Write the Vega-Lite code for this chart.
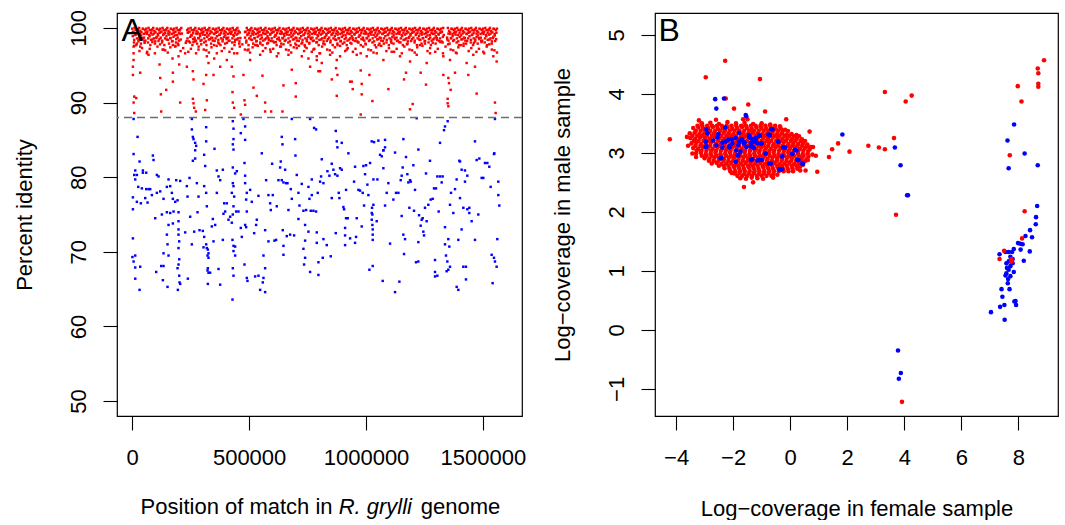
{
"$schema":"https://vega.github.io/schema/vega-lite/v6.json",
"background":"white",
"padding":{"left":12,"top":8,"right":0,"bottom":0},
"spacing":23,
"config":{
"font":"Liberation Sans",
"view":{"stroke":"black","strokeWidth":1.2},
"axis":{"domain":false,"grid":false,"tickColor":"black","tickSize":14,"tickWidth":1.1,"labelFont":"Liberation Sans","labelFontSize":22,"labelColor":"black","labelFlush":false,"labelOverlap":false,"titleFont":"Liberation Sans","titleFontSize":22,"titleFontWeight":"normal","titleColor":"black"},
"axisX":{"labelBaseline":"top","labelPadding":17,"labelAlign":"center","titleBaseline":"alphabetic","titleY":99},
"axisY":{"labelAngle":-90,"labelAlign":"center","labelBaseline":"alphabetic","labelPadding":18,"titleX":-86,"titleBaseline":"alphabetic","titleAngle":-90}
},
"datasets":{
"aRed":[
{"x":0,"y":99.9},{"x":5000,"y":99.5},{"x":10000,"y":100},{"x":15000,"y":99.7},{"x":20000,"y":99.3},{"x":25000,"y":99.8},{"x":30000,"y":100},{"x":35000,"y":99.6},{"x":40000,"y":99.4},{"x":45000,"y":99.9},{"x":50000,"y":99.2},{"x":55000,"y":99.7},
{"x":60000,"y":99.9},{"x":65000,"y":99.5},{"x":70000,"y":100},{"x":75000,"y":99.7},{"x":80000,"y":99.3},{"x":85000,"y":99.8},{"x":90000,"y":100},{"x":95000,"y":99.6},{"x":100000,"y":99.4},{"x":105000,"y":99.9},{"x":110000,"y":99.2},{"x":115000,"y":99.7},
{"x":120000,"y":99.9},{"x":125000,"y":99.5},{"x":130000,"y":100},{"x":135000,"y":99.7},{"x":140000,"y":99.3},{"x":145000,"y":99.8},{"x":150000,"y":100},{"x":155000,"y":99.6},{"x":160000,"y":99.4},{"x":165000,"y":99.9},{"x":170000,"y":99.2},{"x":175000,"y":99.7},
{"x":180000,"y":99.9},{"x":185000,"y":99.5},{"x":190000,"y":100},{"x":195000,"y":99.7},{"x":200000,"y":99.3},{"x":205000,"y":99.8},{"x":210000,"y":100},{"x":235000,"y":99.7},
{"x":240000,"y":99.9},{"x":245000,"y":99.5},{"x":250000,"y":100},{"x":255000,"y":99.7},{"x":260000,"y":99.3},{"x":265000,"y":99.8},{"x":270000,"y":100},{"x":275000,"y":99.6},{"x":280000,"y":99.4},{"x":285000,"y":99.9},{"x":290000,"y":99.2},{"x":295000,"y":99.7},
{"x":300000,"y":99.9},{"x":305000,"y":99.5},{"x":310000,"y":100},{"x":315000,"y":99.7},{"x":320000,"y":99.3},{"x":325000,"y":99.8},{"x":330000,"y":100},{"x":335000,"y":99.6},{"x":340000,"y":99.4},{"x":345000,"y":99.9},{"x":350000,"y":99.2},{"x":355000,"y":99.7},
{"x":360000,"y":99.9},{"x":365000,"y":99.5},{"x":370000,"y":100},{"x":375000,"y":99.7},{"x":380000,"y":99.3},{"x":385000,"y":99.8},{"x":390000,"y":100},{"x":395000,"y":99.6},{"x":400000,"y":99.4},{"x":405000,"y":99.9},{"x":410000,"y":99.2},{"x":415000,"y":99.7},
{"x":420000,"y":99.9},{"x":425000,"y":99.5},{"x":430000,"y":100},{"x":435000,"y":99.7},{"x":440000,"y":99.3},{"x":445000,"y":99.8},{"x":450000,"y":100},{"x":455000,"y":99.6},{"x":460000,"y":99.4},
{"x":485000,"y":99.5},{"x":490000,"y":100},{"x":495000,"y":99.7},{"x":500000,"y":99.3},{"x":505000,"y":99.8},{"x":510000,"y":100},{"x":515000,"y":99.6},{"x":520000,"y":99.4},{"x":525000,"y":99.9},{"x":530000,"y":99.2},{"x":535000,"y":99.7},
{"x":540000,"y":99.9},{"x":545000,"y":99.5},{"x":550000,"y":100},{"x":555000,"y":99.7},{"x":560000,"y":99.3},{"x":565000,"y":99.8},{"x":570000,"y":100},{"x":575000,"y":99.6},{"x":580000,"y":99.4},{"x":585000,"y":99.9},{"x":590000,"y":99.2},{"x":595000,"y":99.7},
{"x":600000,"y":99.9},{"x":605000,"y":99.5},{"x":610000,"y":100},{"x":615000,"y":99.7},{"x":620000,"y":99.3},{"x":625000,"y":99.8},{"x":630000,"y":100},{"x":635000,"y":99.6},{"x":640000,"y":99.4},{"x":645000,"y":99.9},{"x":650000,"y":99.2},{"x":655000,"y":99.7},
{"x":660000,"y":99.9},{"x":665000,"y":99.5},{"x":670000,"y":100},{"x":675000,"y":99.7},{"x":680000,"y":99.3},{"x":685000,"y":99.8},{"x":690000,"y":100},{"x":695000,"y":99.6},{"x":700000,"y":99.4},{"x":705000,"y":99.9},{"x":710000,"y":99.2},{"x":715000,"y":99.7},
{"x":720000,"y":99.9},{"x":725000,"y":99.5},{"x":730000,"y":100},{"x":735000,"y":99.7},{"x":740000,"y":99.3},{"x":745000,"y":99.8},{"x":750000,"y":100},{"x":755000,"y":99.6},{"x":760000,"y":99.4},{"x":765000,"y":99.9},{"x":770000,"y":99.2},{"x":775000,"y":99.7},
{"x":780000,"y":99.9},{"x":785000,"y":99.5},{"x":790000,"y":100},{"x":795000,"y":99.7},{"x":800000,"y":99.3},{"x":805000,"y":99.8},{"x":810000,"y":100},{"x":815000,"y":99.6},{"x":820000,"y":99.4},{"x":825000,"y":99.9},{"x":830000,"y":99.2},{"x":835000,"y":99.7},
{"x":840000,"y":99.9},{"x":845000,"y":99.5},{"x":850000,"y":100},{"x":855000,"y":99.7},{"x":860000,"y":99.3},{"x":865000,"y":99.8},{"x":870000,"y":100},{"x":875000,"y":99.6},{"x":880000,"y":99.4},{"x":885000,"y":99.9},{"x":890000,"y":99.2},{"x":895000,"y":99.7},
{"x":900000,"y":99.9},{"x":905000,"y":99.5},{"x":910000,"y":100},{"x":915000,"y":99.7},{"x":920000,"y":99.3},{"x":925000,"y":99.8},{"x":930000,"y":100},{"x":935000,"y":99.6},{"x":940000,"y":99.4},{"x":945000,"y":99.9},{"x":950000,"y":99.2},{"x":955000,"y":99.7},
{"x":960000,"y":99.9},{"x":965000,"y":99.5},{"x":970000,"y":100},{"x":975000,"y":99.7},{"x":980000,"y":99.3},{"x":985000,"y":99.8},{"x":990000,"y":100},{"x":995000,"y":99.6},{"x":1000000,"y":99.4},{"x":1005000,"y":99.9},{"x":1010000,"y":99.2},{"x":1015000,"y":99.7},
{"x":1020000,"y":99.9},{"x":1025000,"y":99.5},{"x":1030000,"y":100},{"x":1035000,"y":99.7},{"x":1040000,"y":99.3},{"x":1045000,"y":99.8},{"x":1050000,"y":100},{"x":1055000,"y":99.6},{"x":1060000,"y":99.4},{"x":1065000,"y":99.9},{"x":1070000,"y":99.2},{"x":1075000,"y":99.7},
{"x":1080000,"y":99.9},{"x":1085000,"y":99.5},{"x":1090000,"y":100},{"x":1095000,"y":99.7},{"x":1100000,"y":99.3},{"x":1105000,"y":99.8},{"x":1110000,"y":100},{"x":1115000,"y":99.6},{"x":1120000,"y":99.4},{"x":1125000,"y":99.9},{"x":1130000,"y":99.2},{"x":1135000,"y":99.7},
{"x":1140000,"y":99.9},{"x":1145000,"y":99.5},{"x":1150000,"y":100},{"x":1155000,"y":99.7},{"x":1160000,"y":99.3},{"x":1165000,"y":99.8},{"x":1170000,"y":100},{"x":1175000,"y":99.6},{"x":1180000,"y":99.4},{"x":1185000,"y":99.9},{"x":1190000,"y":99.2},{"x":1195000,"y":99.7},
{"x":1200000,"y":99.9},{"x":1205000,"y":99.5},{"x":1210000,"y":100},{"x":1215000,"y":99.7},{"x":1220000,"y":99.3},{"x":1225000,"y":99.8},{"x":1230000,"y":100},{"x":1235000,"y":99.6},{"x":1240000,"y":99.4},{"x":1245000,"y":99.9},{"x":1250000,"y":99.2},{"x":1255000,"y":99.7},
{"x":1260000,"y":99.9},{"x":1265000,"y":99.5},{"x":1270000,"y":100},{"x":1275000,"y":99.7},{"x":1280000,"y":99.3},{"x":1285000,"y":99.8},{"x":1290000,"y":100},{"x":1295000,"y":99.6},{"x":1300000,"y":99.4},{"x":1305000,"y":99.9},{"x":1310000,"y":99.2},{"x":1315000,"y":99.7},
{"x":1320000,"y":99.9},{"x":1325000,"y":99.5},{"x":1330000,"y":100},{"x":1350000,"y":100},{"x":1355000,"y":99.6},{"x":1360000,"y":99.4},{"x":1365000,"y":99.9},{"x":1370000,"y":99.2},{"x":1375000,"y":99.7},
{"x":1380000,"y":99.9},{"x":1385000,"y":99.5},{"x":1390000,"y":100},{"x":1395000,"y":99.7},{"x":1400000,"y":99.3},{"x":1405000,"y":99.8},{"x":1410000,"y":100},{"x":1415000,"y":99.6},{"x":1420000,"y":99.4},{"x":1425000,"y":99.9},{"x":1430000,"y":99.2},{"x":1435000,"y":99.7},
{"x":1440000,"y":99.9},{"x":1445000,"y":99.5},{"x":1450000,"y":100},{"x":1455000,"y":99.7},{"x":1460000,"y":99.3},{"x":1465000,"y":99.8},{"x":1470000,"y":100},{"x":1475000,"y":99.6},{"x":1480000,"y":99.4},{"x":1485000,"y":99.9},{"x":1490000,"y":99.2},{"x":1495000,"y":99.7},
{"x":1500000,"y":99.9},{"x":1505000,"y":99.5},{"x":1510000,"y":100},{"x":1515000,"y":99.7},{"x":1520000,"y":99.3},{"x":1525000,"y":99.8},{"x":1530000,"y":100},{"x":1535000,"y":99.6},{"x":1540000,"y":99.4},{"x":1545000,"y":99.9},{"x":1550000,"y":99.2},{"x":1555000,"y":99.7},{"x":1560000,"y":99.9},
{"x":2500,"y":99.45},{"x":7500,"y":98.05},{"x":12500,"y":99.05},{"x":17500,"y":97.7},{"x":22500,"y":99.65},{"x":27500,"y":98.45},{"x":32500,"y":99.25},{"x":37500,"y":97.9},{"x":42500,"y":98.65},{"x":47500,"y":99.85},{"x":52500,"y":98.25},{"x":57500,"y":99.35},
{"x":62500,"y":99.45},{"x":67500,"y":98.05},{"x":72500,"y":99.05},{"x":77500,"y":97.7},{"x":82500,"y":99.65},{"x":87500,"y":98.45},{"x":92500,"y":99.25},{"x":97500,"y":97.9},{"x":102500,"y":98.65},{"x":107500,"y":99.85},{"x":112500,"y":98.25},{"x":117500,"y":99.35},
{"x":122500,"y":99.45},{"x":127500,"y":98.05},{"x":132500,"y":99.05},{"x":137500,"y":97.7},{"x":142500,"y":99.65},{"x":147500,"y":98.45},{"x":152500,"y":99.25},{"x":157500,"y":97.9},{"x":162500,"y":98.65},{"x":167500,"y":99.85},{"x":172500,"y":98.25},{"x":177500,"y":99.35},
{"x":182500,"y":99.45},{"x":187500,"y":98.05},{"x":192500,"y":99.05},{"x":197500,"y":97.7},{"x":202500,"y":99.65},{"x":207500,"y":98.45},{"x":212500,"y":99.25},{"x":232500,"y":98.25},{"x":237500,"y":99.35},
{"x":242500,"y":99.45},{"x":247500,"y":98.05},{"x":252500,"y":99.05},{"x":257500,"y":97.7},{"x":262500,"y":99.65},{"x":267500,"y":98.45},{"x":272500,"y":99.25},{"x":277500,"y":97.9},{"x":282500,"y":98.65},{"x":287500,"y":99.85},{"x":292500,"y":98.25},{"x":297500,"y":99.35},
{"x":302500,"y":99.45},{"x":307500,"y":98.05},{"x":312500,"y":99.05},{"x":317500,"y":97.7},{"x":322500,"y":99.65},{"x":327500,"y":98.45},{"x":332500,"y":99.25},{"x":337500,"y":97.9},{"x":342500,"y":98.65},{"x":347500,"y":99.85},{"x":352500,"y":98.25},{"x":357500,"y":99.35},
{"x":362500,"y":99.45},{"x":367500,"y":98.05},{"x":372500,"y":99.05},{"x":377500,"y":97.7},{"x":382500,"y":99.65},{"x":387500,"y":98.45},{"x":392500,"y":99.25},{"x":397500,"y":97.9},{"x":402500,"y":98.65},{"x":407500,"y":99.85},{"x":412500,"y":98.25},{"x":417500,"y":99.35},
{"x":422500,"y":99.45},{"x":427500,"y":98.05},{"x":432500,"y":99.05},{"x":437500,"y":97.7},{"x":442500,"y":99.65},{"x":447500,"y":98.45},{"x":452500,"y":99.25},{"x":457500,"y":97.9},{"x":462500,"y":98.65},
{"x":482500,"y":99.45},{"x":487500,"y":98.05},{"x":492500,"y":99.05},{"x":497500,"y":97.7},{"x":502500,"y":99.65},{"x":507500,"y":98.45},{"x":512500,"y":99.25},{"x":517500,"y":97.9},{"x":522500,"y":98.65},{"x":527500,"y":99.85},{"x":532500,"y":98.25},{"x":537500,"y":99.35},
{"x":542500,"y":99.45},{"x":547500,"y":98.05},{"x":552500,"y":99.05},{"x":557500,"y":97.7},{"x":562500,"y":99.65},{"x":567500,"y":98.45},{"x":572500,"y":99.25},{"x":577500,"y":97.9},{"x":582500,"y":98.65},{"x":587500,"y":99.85},{"x":592500,"y":98.25},{"x":597500,"y":99.35},
{"x":602500,"y":99.45},{"x":607500,"y":98.05},{"x":612500,"y":99.05},{"x":617500,"y":97.7},{"x":622500,"y":99.65},{"x":627500,"y":98.45},{"x":632500,"y":99.25},{"x":637500,"y":97.9},{"x":642500,"y":98.65},{"x":647500,"y":99.85},{"x":652500,"y":98.25},{"x":657500,"y":99.35},
{"x":662500,"y":99.45},{"x":667500,"y":98.05},{"x":672500,"y":99.05},{"x":677500,"y":97.7},{"x":682500,"y":99.65},{"x":687500,"y":98.45},{"x":692500,"y":99.25},{"x":697500,"y":97.9},{"x":702500,"y":98.65},{"x":707500,"y":99.85},{"x":712500,"y":98.25},{"x":717500,"y":99.35},
{"x":722500,"y":99.45},{"x":727500,"y":98.05},{"x":732500,"y":99.05},{"x":737500,"y":97.7},{"x":742500,"y":99.65},{"x":747500,"y":98.45},{"x":752500,"y":99.25},{"x":757500,"y":97.9},{"x":762500,"y":98.65},{"x":767500,"y":99.85},{"x":772500,"y":98.25},{"x":777500,"y":99.35},
{"x":782500,"y":99.45},{"x":787500,"y":98.05},{"x":792500,"y":99.05},{"x":797500,"y":97.7},{"x":802500,"y":99.65},{"x":807500,"y":98.45},{"x":812500,"y":99.25},{"x":817500,"y":97.9},{"x":822500,"y":98.65},{"x":827500,"y":99.85},{"x":832500,"y":98.25},{"x":837500,"y":99.35},
{"x":842500,"y":99.45},{"x":847500,"y":98.05},{"x":852500,"y":99.05},{"x":857500,"y":97.7},{"x":862500,"y":99.65},{"x":867500,"y":98.45},{"x":872500,"y":99.25},{"x":877500,"y":97.9},{"x":882500,"y":98.65},{"x":887500,"y":99.85},{"x":892500,"y":98.25},{"x":897500,"y":99.35},
{"x":902500,"y":99.45},{"x":907500,"y":98.05},{"x":912500,"y":99.05},{"x":917500,"y":97.7},{"x":922500,"y":99.65},{"x":927500,"y":98.45},{"x":932500,"y":99.25},{"x":937500,"y":97.9},{"x":942500,"y":98.65},{"x":947500,"y":99.85},{"x":952500,"y":98.25},{"x":957500,"y":99.35},
{"x":962500,"y":99.45},{"x":967500,"y":98.05},{"x":972500,"y":99.05},{"x":977500,"y":97.7},{"x":982500,"y":99.65},{"x":987500,"y":98.45},{"x":992500,"y":99.25},{"x":997500,"y":97.9},{"x":1002500,"y":98.65},{"x":1007500,"y":99.85},{"x":1012500,"y":98.25},{"x":1017500,"y":99.35},
{"x":1022500,"y":99.45},{"x":1027500,"y":98.05},{"x":1032500,"y":99.05},{"x":1037500,"y":97.7},{"x":1042500,"y":99.65},{"x":1047500,"y":98.45},{"x":1052500,"y":99.25},{"x":1057500,"y":97.9},{"x":1062500,"y":98.65},{"x":1067500,"y":99.85},{"x":1072500,"y":98.25},{"x":1077500,"y":99.35},
{"x":1082500,"y":99.45},{"x":1087500,"y":98.05},{"x":1092500,"y":99.05},{"x":1097500,"y":97.7},{"x":1102500,"y":99.65},{"x":1107500,"y":98.45},{"x":1112500,"y":99.25},{"x":1117500,"y":97.9},{"x":1122500,"y":98.65},{"x":1127500,"y":99.85},{"x":1132500,"y":98.25},{"x":1137500,"y":99.35},
{"x":1142500,"y":99.45},{"x":1147500,"y":98.05},{"x":1152500,"y":99.05},{"x":1157500,"y":97.7},{"x":1162500,"y":99.65},{"x":1167500,"y":98.45},{"x":1172500,"y":99.25},{"x":1177500,"y":97.9},{"x":1182500,"y":98.65},{"x":1187500,"y":99.85},{"x":1192500,"y":98.25},{"x":1197500,"y":99.35},
{"x":1202500,"y":99.45},{"x":1207500,"y":98.05},{"x":1212500,"y":99.05},{"x":1217500,"y":97.7},{"x":1222500,"y":99.65},{"x":1227500,"y":98.45},{"x":1232500,"y":99.25},{"x":1237500,"y":97.9},{"x":1242500,"y":98.65},{"x":1247500,"y":99.85},{"x":1252500,"y":98.25},{"x":1257500,"y":99.35},
{"x":1262500,"y":99.45},{"x":1267500,"y":98.05},{"x":1272500,"y":99.05},{"x":1277500,"y":97.7},{"x":1282500,"y":99.65},{"x":1287500,"y":98.45},{"x":1292500,"y":99.25},{"x":1297500,"y":97.9},{"x":1302500,"y":98.65},{"x":1307500,"y":99.85},{"x":1312500,"y":98.25},{"x":1317500,"y":99.35},
{"x":1322500,"y":99.45},{"x":1327500,"y":98.05},{"x":1332500,"y":99.05},{"x":1347500,"y":98.45},{"x":1352500,"y":99.25},{"x":1357500,"y":97.9},{"x":1362500,"y":98.65},{"x":1367500,"y":99.85},{"x":1372500,"y":98.25},{"x":1377500,"y":99.35},
{"x":1382500,"y":99.45},{"x":1387500,"y":98.05},{"x":1392500,"y":99.05},{"x":1397500,"y":97.7},{"x":1402500,"y":99.65},{"x":1407500,"y":98.45},{"x":1412500,"y":99.25},{"x":1417500,"y":97.9},{"x":1422500,"y":98.65},{"x":1427500,"y":99.85},{"x":1432500,"y":98.25},{"x":1437500,"y":99.35},
{"x":1442500,"y":99.45},{"x":1447500,"y":98.05},{"x":1452500,"y":99.05},{"x":1457500,"y":97.7},{"x":1462500,"y":99.65},{"x":1467500,"y":98.45},{"x":1472500,"y":99.25},{"x":1477500,"y":97.9},{"x":1482500,"y":98.65},{"x":1487500,"y":99.85},{"x":1492500,"y":98.25},{"x":1497500,"y":99.35},
{"x":1502500,"y":99.45},{"x":1507500,"y":98.05},{"x":1512500,"y":99.05},{"x":1517500,"y":97.7},{"x":1522500,"y":99.65},{"x":1527500,"y":98.45},{"x":1532500,"y":99.25},{"x":1537500,"y":97.9},{"x":1542500,"y":98.65},{"x":1547500,"y":99.85},{"x":1552500,"y":98.25},{"x":1557500,"y":99.35},
{"x":2500,"y":98.9},{"x":8500,"y":98.4},{"x":14500,"y":99.1},{"x":20500,"y":98.6},{"x":26500,"y":98.2},{"x":32500,"y":98.8},{"x":38500,"y":99.0},{"x":44500,"y":98.5},{"x":50500,"y":98.7},{"x":56500,"y":98.3},{"x":62500,"y":99.2},{"x":68500,"y":98.6},
{"x":74500,"y":98.9},{"x":80500,"y":98.4},{"x":86500,"y":99.1},{"x":92500,"y":98.6},{"x":98500,"y":98.2},{"x":104500,"y":98.8},{"x":110500,"y":99.0},{"x":116500,"y":98.5},{"x":122500,"y":98.7},{"x":128500,"y":98.3},{"x":134500,"y":99.2},{"x":140500,"y":98.6},
{"x":146500,"y":98.9},{"x":152500,"y":98.4},{"x":158500,"y":99.1},{"x":164500,"y":98.6},{"x":170500,"y":98.2},{"x":176500,"y":98.8},{"x":182500,"y":99.0},{"x":188500,"y":98.5},{"x":194500,"y":98.7},{"x":200500,"y":98.3},{"x":206500,"y":99.2},
{"x":236500,"y":98.6},{"x":242500,"y":98.2},{"x":248500,"y":98.8},{"x":254500,"y":99.0},{"x":260500,"y":98.5},{"x":266500,"y":98.7},{"x":272500,"y":98.3},{"x":278500,"y":99.2},{"x":284500,"y":98.6},
{"x":290500,"y":98.9},{"x":296500,"y":98.4},{"x":302500,"y":99.1},{"x":308500,"y":98.6},{"x":314500,"y":98.2},{"x":320500,"y":98.8},{"x":326500,"y":99.0},{"x":332500,"y":98.5},{"x":338500,"y":98.7},{"x":344500,"y":98.3},{"x":350500,"y":99.2},{"x":356500,"y":98.6},
{"x":362500,"y":98.9},{"x":368500,"y":98.4},{"x":374500,"y":99.1},{"x":380500,"y":98.6},{"x":386500,"y":98.2},{"x":392500,"y":98.8},{"x":398500,"y":99.0},{"x":404500,"y":98.5},{"x":410500,"y":98.7},{"x":416500,"y":98.3},{"x":422500,"y":99.2},{"x":428500,"y":98.6},
{"x":434500,"y":98.9},{"x":440500,"y":98.4},{"x":446500,"y":99.1},{"x":452500,"y":98.6},{"x":458500,"y":98.2},{"x":482500,"y":98.7},{"x":488500,"y":98.3},{"x":494500,"y":99.2},{"x":500500,"y":98.6},
{"x":506500,"y":98.9},{"x":512500,"y":98.4},{"x":518500,"y":99.1},{"x":524500,"y":98.6},{"x":530500,"y":98.2},{"x":536500,"y":98.8},{"x":542500,"y":99.0},{"x":548500,"y":98.5},{"x":554500,"y":98.7},{"x":560500,"y":98.3},{"x":566500,"y":99.2},{"x":572500,"y":98.6},
{"x":578500,"y":98.9},{"x":584500,"y":98.4},{"x":590500,"y":99.1},{"x":596500,"y":98.6},{"x":602500,"y":98.2},{"x":608500,"y":98.8},{"x":614500,"y":99.0},{"x":620500,"y":98.5},{"x":626500,"y":98.7},{"x":632500,"y":98.3},{"x":638500,"y":99.2},{"x":644500,"y":98.6},
{"x":650500,"y":98.9},{"x":656500,"y":98.4},{"x":662500,"y":99.1},{"x":668500,"y":98.6},{"x":674500,"y":98.2},{"x":680500,"y":98.8},{"x":686500,"y":99.0},{"x":692500,"y":98.5},{"x":698500,"y":98.7},{"x":704500,"y":98.3},{"x":710500,"y":99.2},{"x":716500,"y":98.6},
{"x":722500,"y":98.9},{"x":728500,"y":98.4},{"x":734500,"y":99.1},{"x":740500,"y":98.6},{"x":746500,"y":98.2},{"x":752500,"y":98.8},{"x":758500,"y":99.0},{"x":764500,"y":98.5},{"x":770500,"y":98.7},{"x":776500,"y":98.3},{"x":782500,"y":99.2},{"x":788500,"y":98.6},
{"x":794500,"y":98.9},{"x":800500,"y":98.4},{"x":806500,"y":99.1},{"x":812500,"y":98.6},{"x":818500,"y":98.2},{"x":824500,"y":98.8},{"x":830500,"y":99.0},{"x":836500,"y":98.5},{"x":842500,"y":98.7},{"x":848500,"y":98.3},{"x":854500,"y":99.2},{"x":860500,"y":98.6},
{"x":866500,"y":98.9},{"x":872500,"y":98.4},{"x":878500,"y":99.1},{"x":884500,"y":98.6},{"x":890500,"y":98.2},{"x":896500,"y":98.8},{"x":902500,"y":99.0},{"x":908500,"y":98.5},{"x":914500,"y":98.7},{"x":920500,"y":98.3},{"x":926500,"y":99.2},{"x":932500,"y":98.6},
{"x":938500,"y":98.9},{"x":944500,"y":98.4},{"x":950500,"y":99.1},{"x":956500,"y":98.6},{"x":962500,"y":98.2},{"x":968500,"y":98.8},{"x":974500,"y":99.0},{"x":980500,"y":98.5},{"x":986500,"y":98.7},{"x":992500,"y":98.3},{"x":998500,"y":99.2},{"x":1004500,"y":98.6},
{"x":1010500,"y":98.9},{"x":1016500,"y":98.4},{"x":1022500,"y":99.1},{"x":1028500,"y":98.6},{"x":1034500,"y":98.2},{"x":1040500,"y":98.8},{"x":1046500,"y":99.0},{"x":1052500,"y":98.5},{"x":1058500,"y":98.7},{"x":1064500,"y":98.3},{"x":1070500,"y":99.2},{"x":1076500,"y":98.6},
{"x":1082500,"y":98.9},{"x":1088500,"y":98.4},{"x":1094500,"y":99.1},{"x":1100500,"y":98.6},{"x":1106500,"y":98.2},{"x":1112500,"y":98.8},{"x":1118500,"y":99.0},{"x":1124500,"y":98.5},{"x":1130500,"y":98.7},{"x":1136500,"y":98.3},{"x":1142500,"y":99.2},{"x":1148500,"y":98.6},
{"x":1154500,"y":98.9},{"x":1160500,"y":98.4},{"x":1166500,"y":99.1},{"x":1172500,"y":98.6},{"x":1178500,"y":98.2},{"x":1184500,"y":98.8},{"x":1190500,"y":99.0},{"x":1196500,"y":98.5},{"x":1202500,"y":98.7},{"x":1208500,"y":98.3},{"x":1214500,"y":99.2},{"x":1220500,"y":98.6},
{"x":1226500,"y":98.9},{"x":1232500,"y":98.4},{"x":1238500,"y":99.1},{"x":1244500,"y":98.6},{"x":1250500,"y":98.2},{"x":1256500,"y":98.8},{"x":1262500,"y":99.0},{"x":1268500,"y":98.5},{"x":1274500,"y":98.7},{"x":1280500,"y":98.3},{"x":1286500,"y":99.2},{"x":1292500,"y":98.6},
{"x":1298500,"y":98.9},{"x":1304500,"y":98.4},{"x":1310500,"y":99.1},{"x":1316500,"y":98.6},{"x":1322500,"y":98.2},{"x":1328500,"y":98.8},{"x":1346500,"y":98.7},{"x":1352500,"y":98.3},{"x":1358500,"y":99.2},{"x":1364500,"y":98.6},
{"x":1370500,"y":98.9},{"x":1376500,"y":98.4},{"x":1382500,"y":99.1},{"x":1388500,"y":98.6},{"x":1394500,"y":98.2},{"x":1400500,"y":98.8},{"x":1406500,"y":99.0},{"x":1412500,"y":98.5},{"x":1418500,"y":98.7},{"x":1424500,"y":98.3},{"x":1430500,"y":99.2},{"x":1436500,"y":98.6},
{"x":1442500,"y":98.9},{"x":1448500,"y":98.4},{"x":1454500,"y":99.1},{"x":1460500,"y":98.6},{"x":1466500,"y":98.2},{"x":1472500,"y":98.8},{"x":1478500,"y":99.0},{"x":1484500,"y":98.5},{"x":1490500,"y":98.7},{"x":1496500,"y":98.3},{"x":1502500,"y":99.2},{"x":1508500,"y":98.6},
{"x":1514500,"y":98.9},{"x":1520500,"y":98.4},{"x":1526500,"y":99.1},{"x":1532500,"y":98.6},{"x":1538500,"y":98.2},{"x":1544500,"y":98.8},{"x":1550500,"y":99.0},{"x":1556500,"y":98.5},
{"x":9000,"y":97.6},{"x":31000,"y":96.9},{"x":53000,"y":98.0},{"x":75000,"y":97.2},{"x":97000,"y":96.6},{"x":119000,"y":97.8},{"x":141000,"y":97.0},{"x":163000,"y":97.4},
{"x":185000,"y":97.6},{"x":207000,"y":96.9},{"x":229000,"y":98.0},{"x":251000,"y":97.2},{"x":273000,"y":96.6},{"x":295000,"y":97.8},{"x":317000,"y":97.0},{"x":339000,"y":97.4},
{"x":361000,"y":97.6},{"x":383000,"y":96.9},{"x":405000,"y":98.0},{"x":427000,"y":97.2},{"x":449000,"y":96.6},{"x":471000,"y":97.8},{"x":493000,"y":97.0},{"x":515000,"y":97.4},
{"x":537000,"y":97.6},{"x":559000,"y":96.9},{"x":581000,"y":98.0},{"x":603000,"y":97.2},{"x":625000,"y":96.6},{"x":647000,"y":97.8},{"x":669000,"y":97.0},{"x":691000,"y":97.4},
{"x":713000,"y":97.6},{"x":735000,"y":96.9},{"x":757000,"y":98.0},{"x":779000,"y":97.2},{"x":801000,"y":96.6},{"x":823000,"y":97.8},{"x":845000,"y":97.0},{"x":867000,"y":97.4},
{"x":889000,"y":97.6},{"x":911000,"y":96.9},{"x":933000,"y":98.0},{"x":955000,"y":97.2},{"x":977000,"y":96.6},{"x":999000,"y":97.8},{"x":1021000,"y":97.0},{"x":1043000,"y":97.4},
{"x":1065000,"y":97.6},{"x":1087000,"y":96.9},{"x":1109000,"y":98.0},{"x":1131000,"y":97.2},{"x":1153000,"y":96.6},{"x":1175000,"y":97.8},{"x":1197000,"y":97.0},{"x":1219000,"y":97.4},
{"x":1241000,"y":97.6},{"x":1263000,"y":96.9},{"x":1285000,"y":98.0},{"x":1307000,"y":97.2},{"x":1329000,"y":96.6},{"x":1351000,"y":97.8},{"x":1373000,"y":97.0},{"x":1395000,"y":97.4},
{"x":1417000,"y":97.6},{"x":1439000,"y":96.9},{"x":1461000,"y":98.0},{"x":1483000,"y":97.2},{"x":1505000,"y":96.6},{"x":1527000,"y":97.8},{"x":1549000,"y":97.0},
{"x":20000,"y":97.9},{"x":42000,"y":97.3},{"x":64000,"y":96.8},{"x":86000,"y":98.1},{"x":108000,"y":97.5},{"x":130000,"y":97.1},{"x":152000,"y":96.7},{"x":174000,"y":97.7},
{"x":196000,"y":97.9},{"x":218000,"y":97.3},{"x":240000,"y":96.8},{"x":262000,"y":98.1},{"x":284000,"y":97.5},{"x":306000,"y":97.1},{"x":328000,"y":96.7},{"x":350000,"y":97.7},
{"x":372000,"y":97.9},{"x":394000,"y":97.3},{"x":416000,"y":96.8},{"x":438000,"y":98.1},{"x":460000,"y":97.5},{"x":482000,"y":97.1},{"x":504000,"y":96.7},{"x":526000,"y":97.7},
{"x":548000,"y":97.9},{"x":570000,"y":97.3},{"x":592000,"y":96.8},{"x":614000,"y":98.1},{"x":636000,"y":97.5},{"x":658000,"y":97.1},{"x":680000,"y":96.7},{"x":702000,"y":97.7},
{"x":724000,"y":97.9},{"x":746000,"y":97.3},{"x":768000,"y":96.8},{"x":790000,"y":98.1},{"x":812000,"y":97.5},{"x":834000,"y":97.1},{"x":856000,"y":96.7},{"x":878000,"y":97.7},
{"x":900000,"y":97.9},{"x":922000,"y":97.3},{"x":944000,"y":96.8},{"x":966000,"y":98.1},{"x":988000,"y":97.5},{"x":1010000,"y":97.1},{"x":1032000,"y":96.7},{"x":1054000,"y":97.7},
{"x":1076000,"y":97.9},{"x":1098000,"y":97.3},{"x":1120000,"y":96.8},{"x":1142000,"y":98.1},{"x":1164000,"y":97.5},{"x":1186000,"y":97.1},{"x":1208000,"y":96.7},{"x":1230000,"y":97.7},
{"x":1252000,"y":97.9},{"x":1274000,"y":97.3},{"x":1296000,"y":96.8},{"x":1318000,"y":98.1},{"x":1340000,"y":97.5},{"x":1362000,"y":97.1},{"x":1384000,"y":96.7},{"x":1406000,"y":97.7},
{"x":1428000,"y":97.9},{"x":1450000,"y":97.3},{"x":1472000,"y":96.8},{"x":1494000,"y":98.1},{"x":1516000,"y":97.5},{"x":1538000,"y":97.1},{"x":1560000,"y":96.7},
{"x":34300,"y":97.5},{"x":62800,"y":96.6},{"x":117000,"y":95.1},{"x":134000,"y":97.1},{"x":183900,"y":97.5},{"x":198100,"y":96.2},{"x":226600,"y":96.6},{"x":233700,"y":94.8},{"x":269300,"y":98.2},{"x":283600,"y":97.1},{"x":319200,"y":96.2},{"x":326300,"y":95.3},{"x":361900,"y":96.6},{"x":404700,"y":95.7},{"x":436000,"y":96.6},{"x":497300,"y":97.1},{"x":504400,"y":95.7},{"x":532900,"y":97.7},{"x":547100,"y":96.4},{"x":589900,"y":97.1},{"x":618400,"y":96.2},{"x":632600,"y":97.5},{"x":668200,"y":96.4},{"x":703800,"y":97.3},{"x":725200,"y":96.2},{"x":739400,"y":97.5},{"x":775000,"y":97.1},{"x":789300,"y":96.2},
{"x":803500,"y":96.6},{"x":846300,"y":96.4},{"x":889000,"y":96.2},{"x":917500,"y":97.1},{"x":960200,"y":96.4},{"x":1003000,"y":96.2},{"x":1045700,"y":96.6},{"x":1074200,"y":95.7},{"x":1109800,"y":96.8},{"x":1145400,"y":96.2},{"x":1188200,"y":95.5},{"x":1216700,"y":96.4},{"x":1259400,"y":95.3},{"x":1273600,"y":96.6},{"x":1330600,"y":96.2},{"x":1359100,"y":95.7},{"x":1387600,"y":96.6},{"x":1430300,"y":95.3},{"x":1458800,"y":96.4},{"x":1501500,"y":96.8},{"x":1544300,"y":96.2},
{"x":6000,"y":97.5},{"x":6000,"y":96.6},{"x":6000,"y":95.7},{"x":3000,"y":94.8},{"x":3000,"y":93.7},{"x":8700,"y":90.8},{"x":6000,"y":90.0},{"x":8700,"y":88.6},{"x":17200,"y":90.6},{"x":34300,"y":94.0},{"x":69900,"y":96.4},{"x":119800,"y":93.3},{"x":122600,"y":91.1},{"x":124100,"y":88.8},{"x":145400,"y":91.7},{"x":172500,"y":95.9},{"x":173900,"y":94.0},{"x":173900,"y":92.8},{"x":205300,"y":90.0},{"x":201000,"y":95.1},{"x":259400,"y":94.2},{"x":262200,"y":93.1},{"x":259400,"y":90.5},{"x":262200,"y":89.9},{"x":272200,"y":88.8},{"x":265100,"y":89.3},{"x":305000,"y":92.5},{"x":316400,"y":93.7},{"x":319200,"y":90.3},{"x":312100,"y":89.0},{"x":347700,"y":93.7},{"x":350600,"y":95.9},{"x":376200,"y":94.8},{"x":426100,"y":94.8},{"x":428900,"y":91.4},{"x":430300,"y":90.0},{"x":436000,"y":89.3},{"x":433200,"y":93.5},{"x":475900,"y":93.7},{"x":480200,"y":90.3},{"x":483000,"y":89.7},{"x":464500,"y":88.4},{"x":518600,"y":92.0},{"x":532900,"y":90.9},{"x":557100,"y":93.6},{"x":568500,"y":90.0},{"x":568500,"y":88.8},{"x":594100,"y":88.8},{"x":642600,"y":88.8},{"x":646900,"y":92.3},{"x":682500,"y":94.4},{"x":699500,"y":92.6},{"x":699500,"y":90.8},{"x":753700,"y":95.9},{"x":760800,"y":94.8},{"x":789300,"y":95.7},{"x":803500,"y":94.2},
{"x":810700,"y":95.3},{"x":853400,"y":93.1},{"x":871900,"y":94.6},{"x":877600,"y":93.7},{"x":874800,"y":90.9},{"x":938900,"y":92.8},{"x":943100,"y":91.8},{"x":977300,"y":94.3},{"x":981600,"y":92.5},{"x":981600,"y":91.1},{"x":977300,"y":88.4},{"x":1014400,"y":93.7},{"x":1027200,"y":90.2},{"x":1095600,"y":91.8},{"x":1162500,"y":93.1},{"x":1171000,"y":94.0},{"x":1199600,"y":89.8},{"x":1188200,"y":89.1},{"x":1233700,"y":94.0},{"x":1256500,"y":92.4},{"x":1330600,"y":93.7},{"x":1352000,"y":93.3},{"x":1354800,"y":92.6},{"x":1361900,"y":91.7},{"x":1349100,"y":90.5},{"x":1349100,"y":89.9},{"x":1352000,"y":89.5},{"x":1380500,"y":94.0},{"x":1437400,"y":93.7},{"x":1465900,"y":94.8},{"x":1473100,"y":91.2},{"x":1551400,"y":90.0},{"x":1554300,"y":88.6},{"x":1558600,"y":95.5},{"x":796400,"y":94.2},{"x":931800,"y":92.8},{"x":874800,"y":95.7}
],
"aBlue":[
{"x":6000,"y":87.8},{"x":22900,"y":85.4},{"x":255100,"y":87.8},{"x":255100,"y":86.4},{"x":259400,"y":85.4},{"x":262200,"y":85.1},{"x":269300,"y":84.6},{"x":273600,"y":84.2},{"x":269300,"y":83.6},{"x":316400,"y":86.7},{"x":316400,"y":84.8},{"x":352000,"y":83.8},{"x":430300,"y":87.5},{"x":433200,"y":86.5},{"x":433200,"y":85.1},{"x":430300,"y":84.4},{"x":433200,"y":83.7},{"x":464500,"y":85.9},{"x":483000,"y":86.8},{"x":483000,"y":85.0},{"x":475900,"y":87.8},{"x":639700,"y":85.4},{"x":642600,"y":84.4},{"x":696700,"y":85.1},{"x":682500,"y":87.8},{"x":760800,"y":87.8},{"x":777900,"y":86.6},{"x":786400,"y":86.4},{"x":1216700,"y":87.9},{"x":1349100,"y":87.5},{"x":1337700,"y":86.8},{"x":1333500,"y":86.3},{"x":870500,"y":86.2},{"x":874800,"y":84.8},{"x":877600,"y":84.0},{"x":896100,"y":84.6},{"x":1024300,"y":84.8},{"x":1034300,"y":84.7},{"x":1052800,"y":84.9},{"x":1081300,"y":85.0},{"x":1081300,"y":84.0},{"x":1074200,"y":83.6},{"x":1159700,"y":85.1},{"x":1223800,"y":83.7},{"x":1316400,"y":84.6},{"x":1465900,"y":84.8},{"x":1551400,"y":87.8},{"x":1548600,"y":83.2},
{"x":6000,"y":83.1},{"x":13000,"y":80.9},{"x":8700,"y":80.3},{"x":20000,"y":80.3},{"x":13000,"y":79.7},{"x":31500,"y":82.1},{"x":25800,"y":78.7},{"x":3000,"y":77.3},{"x":3000,"y":75.7},{"x":20000,"y":76.7},{"x":37000,"y":76.5},{"x":3000,"y":71.8},{"x":1000,"y":69.3},{"x":13000,"y":69.5},{"x":6000,"y":68.7},{"x":13000,"y":67.9},{"x":34300,"y":68.0},{"x":13000,"y":66.4},{"x":31500,"y":64.9},
{"x":45700,"y":80.9},{"x":41400,"y":78.5},{"x":60000,"y":78.4},{"x":70000,"y":78.4},{"x":77000,"y":78.4},{"x":55700,"y":77.2},{"x":65700,"y":76.6},{"x":45700,"y":80.6},{"x":60000,"y":80.6},{"x":88400,"y":82.9},{"x":91300,"y":82.3},{"x":105500,"y":80.3},{"x":112700,"y":80.1},{"x":84200,"y":77.6},{"x":98400,"y":74.5},{"x":105500,"y":77.9},{"x":119800,"y":78.1},{"x":126900,"y":75.0},{"x":134000,"y":77.1},{"x":124100,"y":68.1},{"x":134000,"y":68.1},{"x":102700,"y":67.3},{"x":131200,"y":66.2},{"x":151100,"y":65.3},
{"x":148300,"y":78.7},{"x":155400,"y":79.7},{"x":162500,"y":78.8},{"x":169600,"y":77.9},{"x":173900,"y":77.1},{"x":188200,"y":79.6},{"x":205300,"y":79.5},{"x":183900,"y":76.7},{"x":193900,"y":76.9},{"x":148300,"y":75.3},{"x":162500,"y":75.2},{"x":176800,"y":75.4},{"x":198100,"y":75.3},{"x":155400,"y":73.6},{"x":148300,"y":72.3},{"x":151100,"y":71.0},{"x":155400,"y":69.5},{"x":134000,"y":69.8},{"x":173900,"y":73.8},{"x":198100,"y":74.1},{"x":198100,"y":73.0},{"x":198100,"y":72.3},{"x":201000,"y":71.4},{"x":198100,"y":70.5},{"x":201000,"y":69.0},{"x":198100,"y":68.3},{"x":201000,"y":66.8},{"x":202400,"y":65.9},{"x":205300,"y":65.7},{"x":195300,"y":64.9},{"x":193900,"y":67.8},{"x":238000,"y":66.4},
{"x":226600,"y":72.6},{"x":236600,"y":77.4},{"x":245100,"y":79.9},{"x":259400,"y":82.2},{"x":269300,"y":82.5},{"x":276500,"y":79.2},{"x":283600,"y":77.4},{"x":279300,"y":75.3},{"x":255100,"y":71.0},{"x":265100,"y":72.7},{"x":287900,"y":72.9},{"x":302100,"y":72.8},{"x":248000,"y":74.7},{"x":233700,"y":78.8},{"x":307800,"y":78.8},{"x":316400,"y":77.9},{"x":312100,"y":81.5},{"x":307800,"y":83.0},{"x":319200,"y":76.1},{"x":307800,"y":72.0},{"x":316400,"y":71.0},{"x":305000,"y":70.6},
{"x":319200,"y":70.5},{"x":323500,"y":70.3},{"x":326300,"y":69.8},{"x":326300,"y":69.2},{"x":322100,"y":69.5},{"x":323500,"y":67.8},{"x":322100,"y":67.5},{"x":326300,"y":67.2},{"x":323500,"y":65.7},{"x":333400,"y":67.2},{"x":347700,"y":71.4},{"x":340600,"y":73.4},{"x":344900,"y":74.4},{"x":354800,"y":73.6},{"x":361900,"y":77.9},{"x":369100,"y":80.1},{"x":361900,"y":80.9},{"x":376200,"y":79.6},{"x":387600,"y":81.0},{"x":390400,"y":75.1},{"x":393300,"y":76.5},{"x":397600,"y":75.4},{"x":404700,"y":76.5},{"x":387600,"y":71.6},{"x":376200,"y":65.6},{"x":369100,"y":67.7},
{"x":411800,"y":74.3},{"x":418900,"y":74.7},{"x":426100,"y":73.9},{"x":430300,"y":75.0},{"x":433200,"y":76.1},{"x":436000,"y":77.4},{"x":426100,"y":77.9},{"x":433200,"y":78.8},{"x":430300,"y":79.2},{"x":440300,"y":80.5},{"x":430300,"y":81.3},{"x":447400,"y":80.8},{"x":428900,"y":71.6},{"x":433200,"y":70.8},{"x":440300,"y":70.7},{"x":433200,"y":70.1},{"x":440300,"y":69.5},{"x":430300,"y":67.8},{"x":433200,"y":66.8},{"x":428900,"y":63.6},{"x":444600,"y":75.4},{"x":454500,"y":75.4},{"x":464500,"y":73.2},{"x":468800,"y":72.0},{"x":480200,"y":81.9},{"x":483000,"y":80.2},{"x":483000,"y":79.2},{"x":490200,"y":77.9},{"x":487300,"y":77.0},{"x":490200,"y":75.4},{"x":483000,"y":73.6},{"x":487300,"y":73.3},{"x":480200,"y":68.3},{"x":490200,"y":66.5},{"x":493000,"y":66.1},{"x":504400,"y":78.3},{"x":511500,"y":76.7},{"x":521500,"y":72.5},{"x":530000,"y":73.6},{"x":532900,"y":74.3},{"x":540000,"y":77.5},{"x":525800,"y":66.7},{"x":540000,"y":66.8},{"x":547100,"y":64.9},{"x":561400,"y":69.5},{"x":561400,"y":66.5},{"x":568500,"y":67.8},{"x":568500,"y":64.6},{"x":558500,"y":65.9},
{"x":554300,"y":83.2},{"x":572800,"y":79.6},{"x":568500,"y":72.9},{"x":582700,"y":71.4},{"x":582700,"y":77.6},{"x":589900,"y":76.5},{"x":592700,"y":75.6},{"x":598400,"y":81.8},{"x":601300,"y":77.6},{"x":608400,"y":71.5},{"x":615500,"y":71.6},{"x":618400,"y":76.1},{"x":625500,"y":79.6},{"x":632600,"y":81.3},{"x":635500,"y":82.1},{"x":639700,"y":79.6},{"x":646900,"y":79.3},{"x":658200,"y":79.2},{"x":663900,"y":79.2},{"x":646900,"y":70.8},{"x":644000,"y":72.9},{"x":646900,"y":69.6},{"x":654000,"y":81.0},{"x":668200,"y":75.6},{"x":675300,"y":72.3},{"x":682500,"y":77.1},{"x":678200,"y":78.4},{"x":692400,"y":72.2},{"x":698100,"y":82.9},{"x":703800,"y":80.3},{"x":710900,"y":77.9},{"x":710900,"y":74.4},{"x":715200,"y":76.2},{"x":661100,"y":72.1},
{"x":725200,"y":79.1},{"x":732300,"y":75.5},{"x":739400,"y":73.6},{"x":739400,"y":71.5},{"x":732300,"y":70.4},{"x":739400,"y":69.2},{"x":735200,"y":68.3},{"x":743700,"y":75.6},{"x":753700,"y":78.7},{"x":753700,"y":72.7},{"x":758000,"y":77.1},{"x":763700,"y":75.5},{"x":768000,"y":79.7},{"x":760800,"y":67.3},{"x":768000,"y":77.6},{"x":775000,"y":75.5},{"x":786400,"y":75.4},{"x":789300,"y":72.6},{"x":796400,"y":66.9},{"x":789300,"y":71.2},{"x":793500,"y":77.9},{"x":803500,"y":79.4},{"x":807800,"y":80.1},{"x":817800,"y":79.2},{"x":817800,"y":71.7},{"x":814900,"y":69.2},{"x":810700,"y":82.4},{"x":796400,"y":68.6},
{"x":832000,"y":70.9},{"x":834900,"y":80.8},{"x":843400,"y":80.2},{"x":853400,"y":81.8},{"x":849100,"y":69.4},{"x":853400,"y":77.2},{"x":860500,"y":81.0},{"x":867600,"y":80.4},{"x":870500,"y":72.5},{"x":877600,"y":80.2},{"x":883300,"y":77.9},{"x":886100,"y":77.2},{"x":889000,"y":81.2},{"x":896100,"y":81.0},{"x":903200,"y":76.0},{"x":906100,"y":75.7},{"x":914600,"y":78.3},{"x":914600,"y":74.5},{"x":910400,"y":73.2},{"x":910400,"y":72.2},{"x":910400,"y":70.9},{"x":921800,"y":74.5},{"x":924600,"y":83.2},{"x":931800,"y":71.8},{"x":948800,"y":79.4},{"x":953100,"y":81.4},{"x":957400,"y":72.0},{"x":960200,"y":74.5},{"x":953100,"y":71.2},{"x":967400,"y":78.3},{"x":974500,"y":78.2},{"x":981600,"y":73.4},{"x":985900,"y":77.9},{"x":988700,"y":81.5},{"x":995800,"y":80.4},{"x":991600,"y":76.2},{"x":1000100,"y":81.6},{"x":1005800,"y":79.0},{"x":1010100,"y":77.6},{"x":1014400,"y":67.6},{"x":1017200,"y":81.9},{"x":1028600,"y":68.1},{"x":1024400,"y":75.2},{"x":1028600,"y":73.0},{"x":1028600,"y":71.6},{"x":1028600,"y":72.3},{"x":1025700,"y":75.9},{"x":1031500,"y":76.3},{"x":1024400,"y":74.3},{"x":1027200,"y":75.0},{"x":1027200,"y":73.6},
{"x":1031500,"y":79.7},{"x":1045700,"y":74.1},{"x":1048600,"y":79.7},{"x":1060000,"y":83.0},{"x":1067100,"y":82.8},{"x":1074200,"y":83.6},{"x":1081300,"y":76.2},{"x":1088400,"y":77.9},{"x":1074200,"y":81.2},{"x":1095600,"y":79.2},{"x":1102700,"y":71.1},{"x":1116900,"y":77.0},{"x":1124100,"y":64.6},{"x":1124100,"y":83.3},{"x":1128300,"y":77.9},{"x":1138300,"y":77.9},{"x":1142600,"y":66.0},{"x":1148300,"y":79.6},{"x":1152500,"y":80.2},{"x":1156800,"y":81.3},{"x":1152500,"y":74.8},{"x":1159600,"y":72.3},{"x":1162500,"y":69.7},{"x":1166800,"y":71.7},{"x":1171000,"y":82.7},{"x":1176700,"y":80.4},{"x":1181000,"y":79.3},{"x":1188100,"y":79.6},{"x":1185300,"y":75.9},{"x":1191000,"y":79.4},{"x":1202400,"y":81.6},{"x":1205200,"y":75.5},{"x":1209500,"y":78.3},{"x":1213800,"y":68.6},{"x":1223700,"y":68.7},{"x":1223700,"y":71.3},{"x":1226600,"y":74.9},{"x":1233700,"y":73.5},{"x":1237900,"y":74.3},{"x":1242200,"y":74.5},{"x":1245000,"y":72.7},{"x":1247900,"y":72.2},{"x":1252200,"y":75.9},{"x":1259300,"y":74.1},{"x":1256400,"y":80.5},
{"x":1273600,"y":82.2},{"x":1266400,"y":76.3},{"x":1276400,"y":77.0},{"x":1285000,"y":77.1},{"x":1290700,"y":78.5},{"x":1299200,"y":78.5},{"x":1304900,"y":80.1},{"x":1310700,"y":75.4},{"x":1316400,"y":80.1},{"x":1327700,"y":80.1},{"x":1323500,"y":79.3},{"x":1337700,"y":73.3},{"x":1337700,"y":71.0},{"x":1342000,"y":69.5},{"x":1347700,"y":68.7},{"x":1351900,"y":71.7},{"x":1356200,"y":70.7},{"x":1359100,"y":68.0},{"x":1351900,"y":67.6},{"x":1344800,"y":67.4},{"x":1359100,"y":76.3},{"x":1363400,"y":77.9},{"x":1373300,"y":75.2},{"x":1380500,"y":78.4},{"x":1387600,"y":79.7},{"x":1394700,"y":71.6},{"x":1401900,"y":77.2},{"x":1408900,"y":73.0},{"x":1416100,"y":68.0},{"x":1427400,"y":68.0},{"x":1427400,"y":66.3},{"x":1408900,"y":81.0},{"x":1423200,"y":80.9},{"x":1433200,"y":80.2},{"x":1441700,"y":75.9},{"x":1451700,"y":74.1},{"x":1465900,"y":71.6},{"x":1473100,"y":82.3},{"x":1480200,"y":75.0},{"x":1484500,"y":82.5},{"x":1494500,"y":79.9},{"x":1501600,"y":79.9},{"x":1508700,"y":81.9},{"x":1518700,"y":81.9},{"x":1527200,"y":81.4},{"x":1532900,"y":78.7},{"x":1537200,"y":69.6},{"x":1541400,"y":65.8},{"x":1547100,"y":69.2},{"x":1551400,"y":68.7},{"x":1558500,"y":68.0},{"x":1561400,"y":71.7},{"x":1565700,"y":79.4},{"x":1565700,"y":77.6},{"x":1569900,"y":76.2},{"x":1547100,"y":83.1},{"x":1387600,"y":65.3},{"x":1394700,"y":64.9},{"x":1399000,"y":82.2},{"x":1423200,"y":79.4},{"x":1433200,"y":75.7},{"x":1441700,"y":75.2},{"x":1401900,"y":82.1},{"x":1416100,"y":75.9},{"x":1304900,"y":66.8},{"x":1295000,"y":68.9},{"x":1295000,"y":67.3},{"x":1295000,"y":66.7},{"x":1071300,"y":66.1}
],
"b":[
{"x":-3.1,"y":3.5,"g":"r"},{"x":-2.8,"y":3.51,"g":"r"},{"x":-2.5,"y":3.49,"g":"r"},{"x":-2.2,"y":3.52,"g":"r"},{"x":-1.9,"y":3.5,"g":"r"},{"x":-1.6,"y":3.51,"g":"r"},{"x":-1.3,"y":3.49,"g":"r"},{"x":-1.0,"y":3.5,"g":"r"},{"x":-0.7,"y":3.48,"g":"r"},
{"x":-3.25,"y":3.46,"g":"r"},{"x":-3.08,"y":3.46,"g":"r"},{"x":-2.91,"y":3.46,"g":"r"},{"x":-2.74,"y":3.46,"g":"r"},{"x":-2.57,"y":3.46,"g":"r"},{"x":-2.4,"y":3.46,"g":"r"},{"x":-2.23,"y":3.46,"g":"r"},{"x":-2.06,"y":3.46,"g":"r"},{"x":-1.89,"y":3.46,"g":"r"},{"x":-1.72,"y":3.46,"g":"r"},{"x":-1.55,"y":3.46,"g":"r"},{"x":-1.38,"y":3.46,"g":"r"},{"x":-1.21,"y":3.46,"g":"r"},{"x":-1.04,"y":3.46,"g":"r"},{"x":-0.87,"y":3.46,"g":"r"},{"x":-0.7,"y":3.46,"g":"r"},{"x":-0.53,"y":3.46,"g":"r"},{"x":-0.36,"y":3.45,"g":"r"},
{"x":-3.4,"y":3.42,"g":"r"},{"x":-3.22,"y":3.43,"g":"r"},{"x":-3.05,"y":3.41,"g":"r"},{"x":-2.88,"y":3.42,"g":"r"},{"x":-2.71,"y":3.44,"g":"r"},{"x":-2.54,"y":3.41,"g":"r"},{"x":-2.37,"y":3.42,"g":"r"},{"x":-2.2,"y":3.43,"g":"r"},{"x":-2.03,"y":3.41,"g":"r"},{"x":-1.86,"y":3.42,"g":"r"},{"x":-1.69,"y":3.44,"g":"r"},{"x":-1.52,"y":3.42,"g":"r"},{"x":-1.35,"y":3.41,"g":"r"},{"x":-1.18,"y":3.43,"g":"r"},{"x":-1.01,"y":3.42,"g":"r"},{"x":-0.84,"y":3.41,"g":"r"},{"x":-0.67,"y":3.42,"g":"r"},{"x":-0.5,"y":3.4,"g":"r"},{"x":-0.33,"y":3.41,"g":"r"},{"x":-0.18,"y":3.39,"g":"r"},
{"x":-3.31,"y":3.375,"g":"r"},{"x":-3.14,"y":3.375,"g":"r"},{"x":-2.97,"y":3.375,"g":"r"},{"x":-2.8,"y":3.375,"g":"r"},{"x":-2.63,"y":3.375,"g":"r"},{"x":-2.46,"y":3.375,"g":"r"},{"x":-2.29,"y":3.375,"g":"r"},{"x":-2.12,"y":3.375,"g":"r"},{"x":-1.95,"y":3.375,"g":"r"},{"x":-1.78,"y":3.375,"g":"r"},{"x":-1.61,"y":3.375,"g":"r"},{"x":-1.44,"y":3.375,"g":"r"},{"x":-1.27,"y":3.375,"g":"r"},{"x":-1.1,"y":3.375,"g":"r"},{"x":-0.93,"y":3.375,"g":"r"},{"x":-0.76,"y":3.375,"g":"r"},{"x":-0.59,"y":3.375,"g":"r"},{"x":-0.42,"y":3.375,"g":"r"},{"x":-0.25,"y":3.375,"g":"r"},{"x":-0.08,"y":3.37,"g":"r"},
{"x":-3.52,"y":3.33,"g":"r"},{"x":-3.35,"y":3.34,"g":"r"},{"x":-3.18,"y":3.32,"g":"r"},{"x":-3.01,"y":3.33,"g":"r"},{"x":-2.84,"y":3.35,"g":"r"},{"x":-2.67,"y":3.33,"g":"r"},{"x":-2.5,"y":3.32,"g":"r"},{"x":-2.33,"y":3.34,"g":"r"},{"x":-2.16,"y":3.33,"g":"r"},{"x":-1.99,"y":3.32,"g":"r"},{"x":-1.82,"y":3.34,"g":"r"},{"x":-1.65,"y":3.33,"g":"r"},{"x":-1.48,"y":3.32,"g":"r"},{"x":-1.31,"y":3.34,"g":"r"},{"x":-1.14,"y":3.33,"g":"r"},{"x":-0.97,"y":3.32,"g":"r"},{"x":-0.8,"y":3.33,"g":"r"},{"x":-0.63,"y":3.34,"g":"r"},{"x":-0.46,"y":3.32,"g":"r"},{"x":-0.29,"y":3.33,"g":"r"},{"x":-0.12,"y":3.31,"g":"r"},{"x":0.05,"y":3.32,"g":"r"},{"x":0.22,"y":3.3,"g":"r"},
{"x":-3.43,"y":3.29,"g":"r"},{"x":-3.26,"y":3.29,"g":"r"},{"x":-3.09,"y":3.29,"g":"r"},{"x":-2.92,"y":3.29,"g":"r"},{"x":-2.75,"y":3.29,"g":"r"},{"x":-2.58,"y":3.29,"g":"r"},{"x":-2.41,"y":3.29,"g":"r"},{"x":-2.24,"y":3.29,"g":"r"},{"x":-2.07,"y":3.29,"g":"r"},{"x":-1.9,"y":3.29,"g":"r"},{"x":-1.73,"y":3.29,"g":"r"},{"x":-1.56,"y":3.29,"g":"r"},{"x":-1.39,"y":3.29,"g":"r"},{"x":-1.22,"y":3.29,"g":"r"},{"x":-1.05,"y":3.29,"g":"r"},{"x":-0.88,"y":3.29,"g":"r"},{"x":-0.71,"y":3.29,"g":"r"},{"x":-0.54,"y":3.29,"g":"r"},{"x":-0.37,"y":3.29,"g":"r"},{"x":-0.2,"y":3.29,"g":"r"},{"x":-0.03,"y":3.29,"g":"r"},{"x":0.14,"y":3.28,"g":"r"},{"x":0.31,"y":3.28,"g":"r"},
{"x":-3.5,"y":3.25,"g":"r"},{"x":-3.33,"y":3.24,"g":"r"},{"x":-3.16,"y":3.26,"g":"r"},{"x":-2.99,"y":3.25,"g":"r"},{"x":-2.82,"y":3.24,"g":"r"},{"x":-2.65,"y":3.26,"g":"r"},{"x":-2.48,"y":3.25,"g":"r"},{"x":-2.31,"y":3.24,"g":"r"},{"x":-2.14,"y":3.26,"g":"r"},{"x":-1.97,"y":3.25,"g":"r"},{"x":-1.8,"y":3.24,"g":"r"},{"x":-1.63,"y":3.26,"g":"r"},{"x":-1.46,"y":3.25,"g":"r"},{"x":-1.29,"y":3.24,"g":"r"},{"x":-1.12,"y":3.26,"g":"r"},{"x":-0.95,"y":3.25,"g":"r"},{"x":-0.78,"y":3.24,"g":"r"},{"x":-0.61,"y":3.26,"g":"r"},{"x":-0.44,"y":3.25,"g":"r"},{"x":-0.27,"y":3.24,"g":"r"},{"x":-0.1,"y":3.25,"g":"r"},{"x":0.07,"y":3.24,"g":"r"},{"x":0.24,"y":3.25,"g":"r"},{"x":0.41,"y":3.23,"g":"r"},
{"x":-3.38,"y":3.205,"g":"r"},{"x":-3.21,"y":3.205,"g":"r"},{"x":-3.04,"y":3.205,"g":"r"},{"x":-2.87,"y":3.205,"g":"r"},{"x":-2.7,"y":3.205,"g":"r"},{"x":-2.53,"y":3.205,"g":"r"},{"x":-2.36,"y":3.205,"g":"r"},{"x":-2.19,"y":3.205,"g":"r"},{"x":-2.02,"y":3.205,"g":"r"},{"x":-1.85,"y":3.205,"g":"r"},{"x":-1.68,"y":3.205,"g":"r"},{"x":-1.51,"y":3.205,"g":"r"},{"x":-1.34,"y":3.205,"g":"r"},{"x":-1.17,"y":3.205,"g":"r"},{"x":-1.0,"y":3.205,"g":"r"},{"x":-0.83,"y":3.205,"g":"r"},{"x":-0.66,"y":3.205,"g":"r"},{"x":-0.49,"y":3.205,"g":"r"},{"x":-0.32,"y":3.205,"g":"r"},{"x":-0.15,"y":3.205,"g":"r"},{"x":0.02,"y":3.205,"g":"r"},{"x":0.19,"y":3.205,"g":"r"},{"x":0.36,"y":3.2,"g":"r"},{"x":0.52,"y":3.2,"g":"r"},
{"x":-3.46,"y":3.16,"g":"r"},{"x":-3.29,"y":3.17,"g":"r"},{"x":-3.12,"y":3.15,"g":"r"},{"x":-2.95,"y":3.16,"g":"r"},{"x":-2.78,"y":3.17,"g":"r"},{"x":-2.61,"y":3.15,"g":"r"},{"x":-2.44,"y":3.16,"g":"r"},{"x":-2.27,"y":3.17,"g":"r"},{"x":-2.1,"y":3.15,"g":"r"},{"x":-1.93,"y":3.16,"g":"r"},{"x":-1.76,"y":3.17,"g":"r"},{"x":-1.59,"y":3.15,"g":"r"},{"x":-1.42,"y":3.16,"g":"r"},{"x":-1.25,"y":3.17,"g":"r"},{"x":-1.08,"y":3.15,"g":"r"},{"x":-0.91,"y":3.16,"g":"r"},{"x":-0.74,"y":3.17,"g":"r"},{"x":-0.57,"y":3.15,"g":"r"},{"x":-0.4,"y":3.16,"g":"r"},{"x":-0.23,"y":3.17,"g":"r"},{"x":-0.06,"y":3.15,"g":"r"},{"x":0.11,"y":3.16,"g":"r"},{"x":0.28,"y":3.15,"g":"r"},{"x":0.45,"y":3.16,"g":"r"},{"x":0.6,"y":3.14,"g":"r"},
{"x":-3.32,"y":3.12,"g":"r"},{"x":-3.15,"y":3.12,"g":"r"},{"x":-2.98,"y":3.12,"g":"r"},{"x":-2.81,"y":3.12,"g":"r"},{"x":-2.64,"y":3.12,"g":"r"},{"x":-2.47,"y":3.12,"g":"r"},{"x":-2.3,"y":3.12,"g":"r"},{"x":-2.13,"y":3.12,"g":"r"},{"x":-1.96,"y":3.12,"g":"r"},{"x":-1.79,"y":3.12,"g":"r"},{"x":-1.62,"y":3.12,"g":"r"},{"x":-1.45,"y":3.12,"g":"r"},{"x":-1.28,"y":3.12,"g":"r"},{"x":-1.11,"y":3.12,"g":"r"},{"x":-0.94,"y":3.12,"g":"r"},{"x":-0.77,"y":3.12,"g":"r"},{"x":-0.6,"y":3.12,"g":"r"},{"x":-0.43,"y":3.12,"g":"r"},{"x":-0.26,"y":3.12,"g":"r"},{"x":-0.09,"y":3.12,"g":"r"},{"x":0.08,"y":3.12,"g":"r"},{"x":0.25,"y":3.12,"g":"r"},{"x":0.42,"y":3.12,"g":"r"},{"x":0.59,"y":3.11,"g":"r"},{"x":0.72,"y":3.1,"g":"r"},
{"x":-3.4,"y":3.08,"g":"r"},{"x":-3.23,"y":3.07,"g":"r"},{"x":-3.06,"y":3.09,"g":"r"},{"x":-2.89,"y":3.08,"g":"r"},{"x":-2.72,"y":3.07,"g":"r"},{"x":-2.55,"y":3.09,"g":"r"},{"x":-2.38,"y":3.08,"g":"r"},{"x":-2.21,"y":3.07,"g":"r"},{"x":-2.04,"y":3.09,"g":"r"},{"x":-1.87,"y":3.08,"g":"r"},{"x":-1.7,"y":3.07,"g":"r"},{"x":-1.53,"y":3.09,"g":"r"},{"x":-1.36,"y":3.08,"g":"r"},{"x":-1.19,"y":3.07,"g":"r"},{"x":-1.02,"y":3.09,"g":"r"},{"x":-0.85,"y":3.08,"g":"r"},{"x":-0.68,"y":3.07,"g":"r"},{"x":-0.51,"y":3.09,"g":"r"},{"x":-0.34,"y":3.08,"g":"r"},{"x":-0.17,"y":3.07,"g":"r"},{"x":0.0,"y":3.08,"g":"r"},{"x":0.17,"y":3.09,"g":"r"},{"x":0.34,"y":3.07,"g":"r"},{"x":0.51,"y":3.08,"g":"r"},{"x":0.68,"y":3.06,"g":"r"},
{"x":-3.28,"y":3.035,"g":"r"},{"x":-3.11,"y":3.035,"g":"r"},{"x":-2.94,"y":3.035,"g":"r"},{"x":-2.77,"y":3.035,"g":"r"},{"x":-2.6,"y":3.035,"g":"r"},{"x":-2.43,"y":3.035,"g":"r"},{"x":-2.26,"y":3.035,"g":"r"},{"x":-2.09,"y":3.035,"g":"r"},{"x":-1.92,"y":3.035,"g":"r"},{"x":-1.75,"y":3.035,"g":"r"},{"x":-1.58,"y":3.035,"g":"r"},{"x":-1.41,"y":3.035,"g":"r"},{"x":-1.24,"y":3.035,"g":"r"},{"x":-1.07,"y":3.035,"g":"r"},{"x":-0.9,"y":3.035,"g":"r"},{"x":-0.73,"y":3.035,"g":"r"},{"x":-0.56,"y":3.035,"g":"r"},{"x":-0.39,"y":3.035,"g":"r"},{"x":-0.22,"y":3.035,"g":"r"},{"x":-0.05,"y":3.035,"g":"r"},{"x":0.12,"y":3.035,"g":"r"},{"x":0.29,"y":3.035,"g":"r"},{"x":0.46,"y":3.035,"g":"r"},{"x":0.63,"y":3.03,"g":"r"},
{"x":-3.3,"y":2.99,"g":"r"},{"x":-3.13,"y":3.0,"g":"r"},{"x":-2.96,"y":2.98,"g":"r"},{"x":-2.79,"y":2.99,"g":"r"},{"x":-2.62,"y":3.0,"g":"r"},{"x":-2.45,"y":2.98,"g":"r"},{"x":-2.28,"y":2.99,"g":"r"},{"x":-2.11,"y":3.0,"g":"r"},{"x":-1.94,"y":2.98,"g":"r"},{"x":-1.77,"y":2.99,"g":"r"},{"x":-1.6,"y":3.0,"g":"r"},{"x":-1.43,"y":2.98,"g":"r"},{"x":-1.26,"y":2.99,"g":"r"},{"x":-1.09,"y":3.0,"g":"r"},{"x":-0.92,"y":2.98,"g":"r"},{"x":-0.75,"y":2.99,"g":"r"},{"x":-0.58,"y":3.0,"g":"r"},{"x":-0.41,"y":2.98,"g":"r"},{"x":-0.24,"y":2.99,"g":"r"},{"x":-0.07,"y":3.0,"g":"r"},{"x":0.1,"y":2.98,"g":"r"},{"x":0.27,"y":2.99,"g":"r"},{"x":0.44,"y":2.98,"g":"r"},{"x":0.61,"y":2.99,"g":"r"},{"x":0.78,"y":2.97,"g":"r"},
{"x":-3.1,"y":2.95,"g":"r"},{"x":-2.93,"y":2.95,"g":"r"},{"x":-2.76,"y":2.95,"g":"r"},{"x":-2.59,"y":2.95,"g":"r"},{"x":-2.42,"y":2.95,"g":"r"},{"x":-2.25,"y":2.95,"g":"r"},{"x":-2.08,"y":2.95,"g":"r"},{"x":-1.91,"y":2.95,"g":"r"},{"x":-1.74,"y":2.95,"g":"r"},{"x":-1.57,"y":2.95,"g":"r"},{"x":-1.4,"y":2.95,"g":"r"},{"x":-1.23,"y":2.95,"g":"r"},{"x":-1.06,"y":2.95,"g":"r"},{"x":-0.89,"y":2.95,"g":"r"},{"x":-0.72,"y":2.95,"g":"r"},{"x":-0.55,"y":2.95,"g":"r"},{"x":-0.38,"y":2.95,"g":"r"},{"x":-0.21,"y":2.95,"g":"r"},{"x":-0.04,"y":2.95,"g":"r"},{"x":0.13,"y":2.95,"g":"r"},{"x":0.3,"y":2.95,"g":"r"},{"x":0.47,"y":2.95,"g":"r"},{"x":0.64,"y":2.94,"g":"r"},
{"x":-3.0,"y":2.91,"g":"r"},{"x":-2.83,"y":2.9,"g":"r"},{"x":-2.66,"y":2.92,"g":"r"},{"x":-2.49,"y":2.91,"g":"r"},{"x":-2.32,"y":2.9,"g":"r"},{"x":-2.15,"y":2.92,"g":"r"},{"x":-1.98,"y":2.91,"g":"r"},{"x":-1.81,"y":2.9,"g":"r"},{"x":-1.64,"y":2.92,"g":"r"},{"x":-1.47,"y":2.91,"g":"r"},{"x":-1.3,"y":2.9,"g":"r"},{"x":-1.13,"y":2.92,"g":"r"},{"x":-0.96,"y":2.91,"g":"r"},{"x":-0.79,"y":2.9,"g":"r"},{"x":-0.62,"y":2.92,"g":"r"},{"x":-0.45,"y":2.91,"g":"r"},{"x":-0.28,"y":2.9,"g":"r"},{"x":-0.11,"y":2.92,"g":"r"},{"x":0.06,"y":2.91,"g":"r"},{"x":0.23,"y":2.9,"g":"r"},{"x":0.4,"y":2.91,"g":"r"},{"x":0.57,"y":2.89,"g":"r"},
{"x":-2.85,"y":2.865,"g":"r"},{"x":-2.68,"y":2.865,"g":"r"},{"x":-2.51,"y":2.865,"g":"r"},{"x":-2.34,"y":2.865,"g":"r"},{"x":-2.17,"y":2.865,"g":"r"},{"x":-2.0,"y":2.865,"g":"r"},{"x":-1.83,"y":2.865,"g":"r"},{"x":-1.66,"y":2.865,"g":"r"},{"x":-1.49,"y":2.865,"g":"r"},{"x":-1.32,"y":2.865,"g":"r"},{"x":-1.15,"y":2.865,"g":"r"},{"x":-0.98,"y":2.865,"g":"r"},{"x":-0.81,"y":2.865,"g":"r"},{"x":-0.64,"y":2.865,"g":"r"},{"x":-0.47,"y":2.865,"g":"r"},{"x":-0.3,"y":2.865,"g":"r"},{"x":-0.13,"y":2.865,"g":"r"},{"x":0.04,"y":2.865,"g":"r"},{"x":0.21,"y":2.865,"g":"r"},{"x":0.38,"y":2.865,"g":"r"},{"x":0.52,"y":2.86,"g":"r"},
{"x":-2.75,"y":2.82,"g":"r"},{"x":-2.58,"y":2.83,"g":"r"},{"x":-2.41,"y":2.81,"g":"r"},{"x":-2.24,"y":2.82,"g":"r"},{"x":-2.07,"y":2.83,"g":"r"},{"x":-1.9,"y":2.81,"g":"r"},{"x":-1.73,"y":2.82,"g":"r"},{"x":-1.56,"y":2.83,"g":"r"},{"x":-1.39,"y":2.81,"g":"r"},{"x":-1.22,"y":2.82,"g":"r"},{"x":-1.05,"y":2.83,"g":"r"},{"x":-0.88,"y":2.81,"g":"r"},{"x":-0.71,"y":2.82,"g":"r"},{"x":-0.54,"y":2.83,"g":"r"},{"x":-0.37,"y":2.81,"g":"r"},{"x":-0.2,"y":2.82,"g":"r"},{"x":-0.03,"y":2.83,"g":"r"},{"x":0.14,"y":2.81,"g":"r"},{"x":0.31,"y":2.82,"g":"r"},{"x":0.45,"y":2.8,"g":"r"},
{"x":-2.5,"y":2.78,"g":"r"},{"x":-2.33,"y":2.78,"g":"r"},{"x":-2.16,"y":2.78,"g":"r"},{"x":-1.99,"y":2.78,"g":"r"},{"x":-1.82,"y":2.78,"g":"r"},{"x":-1.65,"y":2.78,"g":"r"},{"x":-1.48,"y":2.78,"g":"r"},{"x":-1.31,"y":2.78,"g":"r"},{"x":-1.14,"y":2.78,"g":"r"},{"x":-0.97,"y":2.78,"g":"r"},{"x":-0.8,"y":2.78,"g":"r"},{"x":-0.63,"y":2.78,"g":"r"},{"x":-0.46,"y":2.78,"g":"r"},{"x":-0.29,"y":2.78,"g":"r"},{"x":-0.12,"y":2.78,"g":"r"},{"x":0.05,"y":2.78,"g":"r"},{"x":0.22,"y":2.78,"g":"r"},{"x":0.35,"y":2.77,"g":"r"},
{"x":-2.3,"y":2.74,"g":"r"},{"x":-2.13,"y":2.73,"g":"r"},{"x":-1.96,"y":2.75,"g":"r"},{"x":-1.79,"y":2.74,"g":"r"},{"x":-1.62,"y":2.73,"g":"r"},{"x":-1.45,"y":2.75,"g":"r"},{"x":-1.28,"y":2.74,"g":"r"},{"x":-1.11,"y":2.73,"g":"r"},{"x":-0.94,"y":2.75,"g":"r"},{"x":-0.77,"y":2.74,"g":"r"},{"x":-0.6,"y":2.73,"g":"r"},{"x":-0.43,"y":2.75,"g":"r"},{"x":-0.26,"y":2.74,"g":"r"},{"x":-0.09,"y":2.73,"g":"r"},{"x":0.08,"y":2.74,"g":"r"},{"x":0.25,"y":2.73,"g":"r"},
{"x":-2.1,"y":2.69,"g":"r"},{"x":-1.93,"y":2.69,"g":"r"},{"x":-1.76,"y":2.69,"g":"r"},{"x":-1.59,"y":2.69,"g":"r"},{"x":-1.42,"y":2.69,"g":"r"},{"x":-1.25,"y":2.69,"g":"r"},{"x":-1.08,"y":2.69,"g":"r"},{"x":-0.91,"y":2.69,"g":"r"},{"x":-0.74,"y":2.69,"g":"r"},{"x":-0.57,"y":2.69,"g":"r"},{"x":-0.4,"y":2.69,"g":"r"},{"x":-0.23,"y":2.69,"g":"r"},{"x":-0.06,"y":2.69,"g":"r"},{"x":0.1,"y":2.69,"g":"r"},
{"x":-1.95,"y":2.65,"g":"r"},{"x":-1.78,"y":2.66,"g":"r"},{"x":-1.61,"y":2.64,"g":"r"},{"x":-1.44,"y":2.65,"g":"r"},{"x":-1.27,"y":2.66,"g":"r"},{"x":-1.1,"y":2.64,"g":"r"},{"x":-0.93,"y":2.65,"g":"r"},{"x":-0.76,"y":2.66,"g":"r"},{"x":-0.59,"y":2.64,"g":"r"},
{"x":-1.85,"y":2.61,"g":"r"},{"x":-1.68,"y":2.61,"g":"r"},{"x":-1.51,"y":2.61,"g":"r"},{"x":-1.34,"y":2.61,"g":"r"},{"x":-1.17,"y":2.61,"g":"r"},{"x":-1.0,"y":2.61,"g":"r"},{"x":-0.83,"y":2.61,"g":"r"},{"x":-0.66,"y":2.61,"g":"r"},
{"x":-1.75,"y":2.57,"g":"r"},{"x":-1.55,"y":2.56,"g":"r"},{"x":-1.35,"y":2.58,"g":"r"},{"x":-1.15,"y":2.57,"g":"r"},{"x":-0.95,"y":2.56,"g":"r"},
{"x":-3.62,"y":3.27,"g":"r"},{"x":-3.58,"y":3.12,"g":"r"},{"x":-3.2,"y":3.55,"g":"r"},{"x":-2.6,"y":3.56,"g":"r"},{"x":-1.5,"y":3.57,"g":"r"},{"x":0.62,"y":2.88,"g":"r"},{"x":0.8,"y":3.1,"g":"r"},{"x":0.9,"y":2.95,"g":"r"},{"x":-2.05,"y":2.66,"g":"r"},{"x":-0.6,"y":2.58,"g":"r"},{"x":-1.3,"y":2.5,"g":"r"},{"x":0.35,"y":2.7,"g":"r"},{"x":-3.3,"y":2.93,"g":"r"},{"x":-0.45,"y":2.63,"g":"r"},{"x":0.54,"y":2.7,"g":"r"},{"x":-3.43,"y":2.99,"g":"r"},{"x":-3.1,"y":3.49,"g":"r"},
{"x":-4.22,"y":3.23,"g":"r"},{"x":-2.96,"y":4.28,"g":"r"},{"x":-2.28,"y":4.56,"g":"r"},{"x":-1.06,"y":4.25,"g":"r"},{"x":-1.97,"y":3.75,"g":"r"},{"x":-2.26,"y":3.92,"g":"r"},{"x":-1.47,"y":3.82,"g":"r"},{"x":-0.88,"y":3.7,"g":"r"},{"x":-1.65,"y":3.57,"g":"r"},{"x":-0.14,"y":3.57,"g":"r"},{"x":0.68,"y":3.36,"g":"r"},{"x":0.95,"y":2.68,"g":"r"},{"x":1.36,"y":2.93,"g":"r"},{"x":1.47,"y":3.06,"g":"r"},{"x":1.68,"y":3.16,"g":"r"},{"x":2.08,"y":3.02,"g":"r"},{"x":2.74,"y":3.12,"g":"r"},{"x":3.11,"y":3.09,"g":"r"},{"x":3.32,"y":3.06,"g":"r"},{"x":3.64,"y":3.25,"g":"r"},{"x":3.32,"y":4.03,"g":"r"},{"x":4.05,"y":3.87,"g":"r"},{"x":4.26,"y":3.97,"g":"r"},{"x":-1.62,"y":2.42,"g":"r"},{"x":3.71,"y":1.95,"g":"r"},{"x":3.92,"y":-1.22,"g":"r"},
{"x":7.98,"y":4.13,"g":"r"},{"x":8.11,"y":3.87,"g":"r"},{"x":8.68,"y":4.43,"g":"r"},{"x":8.7,"y":4.35,"g":"r"},{"x":8.7,"y":4.17,"g":"r"},{"x":8.7,"y":4.12,"g":"r"},{"x":8.9,"y":4.57,"g":"r"},{"x":7.7,"y":2.96,"g":"r"},
{"x":-2.94,"y":3.4,"g":"b"},{"x":-2.96,"y":3.19,"g":"b"},{"x":-2.96,"y":3.1,"g":"b"},{"x":-2.52,"y":3.32,"g":"b"},{"x":-2.55,"y":3.26,"g":"b"},{"x":-2.28,"y":3.43,"g":"b"},{"x":-2.38,"y":3.17,"g":"b"},{"x":-2.17,"y":3.22,"g":"b"},{"x":-2.12,"y":3.09,"g":"b"},{"x":-2.05,"y":3.23,"g":"b"},{"x":-1.79,"y":3.34,"g":"b"},{"x":-1.7,"y":3.23,"g":"b"},{"x":-1.82,"y":3.13,"g":"b"},{"x":-1.89,"y":3.04,"g":"b"},{"x":-1.84,"y":2.96,"g":"b"},{"x":-1.91,"y":2.85,"g":"b"},{"x":-2.44,"y":2.91,"g":"b"},{"x":-1.54,"y":3.1,"g":"b"},{"x":-1.44,"y":3.27,"g":"b"},{"x":-1.38,"y":3.17,"g":"b"},{"x":-1.3,"y":3.22,"g":"b"},{"x":-1.21,"y":3.23,"g":"b"},{"x":-1.27,"y":3.08,"g":"b"},{"x":-1.35,"y":3.11,"g":"b"},{"x":-1.03,"y":3.16,"g":"b"},{"x":-1.09,"y":3.3,"g":"b"},{"x":-1.38,"y":2.88,"g":"b"},{"x":-1.15,"y":2.87,"g":"b"},{"x":-1.0,"y":2.88,"g":"b"},{"x":-0.86,"y":2.99,"g":"b"},{"x":-0.74,"y":2.82,"g":"b"},{"x":-0.71,"y":3.3,"g":"b"},{"x":-0.62,"y":3.4,"g":"b"},{"x":-0.42,"y":3.19,"g":"b"},{"x":-0.25,"y":3.09,"g":"b"},{"x":-0.18,"y":3.09,"g":"b"},{"x":0.08,"y":2.98,"g":"b"},{"x":0.22,"y":3.04,"g":"b"},{"x":0.29,"y":2.88,"g":"b"},{"x":0.45,"y":2.81,"g":"b"},{"x":-0.39,"y":2.72,"g":"b"},{"x":-0.3,"y":2.72,"g":"b"},{"x":-2.41,"y":2.91,"g":"b"},{"x":-0.66,"y":3.4,"g":"b"},{"x":-0.76,"y":3.31,"g":"b"},{"x":-2.9,"y":3.33,"g":"b"},{"x":-2.7,"y":3.21,"g":"b"},{"x":-1.6,"y":3.18,"g":"b"},
{"x":-2.94,"y":3.11,"g":"b"},{"x":-2.59,"y":3.13,"g":"b"},{"x":-2.38,"y":3.09,"g":"b"},{"x":-2.26,"y":3.19,"g":"b"},{"x":-2.14,"y":3.11,"g":"b"},{"x":-2.03,"y":3.16,"g":"b"},{"x":-1.91,"y":3.25,"g":"b"},{"x":-1.79,"y":3.19,"g":"b"},{"x":-1.74,"y":3.02,"g":"b"},{"x":-1.82,"y":2.96,"g":"b"},{"x":-1.68,"y":3.22,"g":"b"},{"x":-1.62,"y":3.16,"g":"b"},{"x":-1.54,"y":3.62,"g":"b"},{"x":-1.44,"y":3.3,"g":"b"},{"x":-1.39,"y":3.25,"g":"b"},{"x":-1.39,"y":3.11,"g":"b"},{"x":-1.27,"y":3.19,"g":"b"},{"x":-1.21,"y":3.25,"g":"b"},{"x":-1.15,"y":3.16,"g":"b"},{"x":-1.07,"y":3.29,"g":"b"},{"x":-1.0,"y":3.16,"g":"b"},{"x":-1.09,"y":2.88,"g":"b"},{"x":-1.33,"y":2.89,"g":"b"},{"x":-0.86,"y":2.99,"g":"b"},{"x":-0.74,"y":3.3,"g":"b"},{"x":-0.65,"y":3.4,"g":"b"},{"x":-0.68,"y":2.82,"g":"b"},{"x":-0.42,"y":3.19,"g":"b"},{"x":-0.22,"y":3.09,"g":"b"},{"x":-0.28,"y":2.94,"g":"b"},{"x":0.07,"y":2.99,"g":"b"},{"x":0.17,"y":3.05,"g":"b"},{"x":0.25,"y":2.88,"g":"b"},{"x":0.42,"y":2.82,"g":"b"},{"x":-0.37,"y":2.72,"g":"b"},{"x":-0.28,"y":2.72,"g":"b"},
{"x":-2.63,"y":3.91,"g":"b"},{"x":-2.32,"y":3.92,"g":"b"},{"x":-2.59,"y":3.75,"g":"b"},{"x":-1.56,"y":3.64,"g":"b"},{"x":1.83,"y":3.31,"g":"b"},{"x":3.67,"y":3.09,"g":"b"},{"x":3.87,"y":2.79,"g":"b"},{"x":4.1,"y":2.28,"g":"b"},{"x":4.13,"y":2.28,"g":"b"},{"x":3.78,"y":-0.35,"g":"b"},{"x":3.88,"y":-0.73,"g":"b"},{"x":3.81,"y":-0.83,"g":"b"},
{"x":7.85,"y":3.48,"g":"b"},{"x":7.62,"y":3.21,"g":"b"},{"x":8.22,"y":2.99,"g":"b"},{"x":7.66,"y":2.74,"g":"b"},{"x":8.68,"y":2.79,"g":"b"},{"x":8.66,"y":2.1,"g":"b"},{"x":8.62,"y":1.91,"g":"b"},{"x":8.61,"y":1.79,"g":"b"},{"x":8.41,"y":1.69,"g":"b"},{"x":8.48,"y":1.57,"g":"b"},{"x":8.25,"y":1.59,"g":"b"},{"x":7.99,"y":1.47,"g":"b"},{"x":8.15,"y":1.45,"g":"b"},{"x":8.08,"y":1.36,"g":"b"},{"x":8.4,"y":1.33,"g":"b"},{"x":7.84,"y":1.37,"g":"b"},{"x":7.78,"y":1.32,"g":"b"},{"x":7.66,"y":1.32,"g":"b"},{"x":7.55,"y":1.32,"g":"b"},{"x":7.34,"y":1.28,"g":"b"},{"x":7.72,"y":1.24,"g":"b"},{"x":7.8,"y":1.2,"g":"b"},{"x":7.66,"y":1.16,"g":"b"},{"x":7.58,"y":1.13,"g":"b"},{"x":7.8,"y":1.13,"g":"b"},{"x":7.72,"y":1.08,"g":"b"},{"x":7.66,"y":1.02,"g":"b"},{"x":7.58,"y":0.96,"g":"b"},{"x":7.72,"y":0.91,"g":"b"},{"x":7.64,"y":0.86,"g":"b"},{"x":7.55,"y":0.92,"g":"b"},{"x":7.63,"y":0.79,"g":"b"},{"x":7.41,"y":0.69,"g":"b"},{"x":7.69,"y":0.69,"g":"b"},{"x":7.44,"y":0.56,"g":"b"},{"x":7.86,"y":0.48,"g":"b"},{"x":7.92,"y":0.42,"g":"b"},{"x":7.51,"y":0.42,"g":"b"},{"x":7.36,"y":0.39,"g":"b"},{"x":7.04,"y":0.3,"g":"b"},{"x":7.52,"y":0.17,"g":"b"},{"x":8.19,"y":1.17,"g":"b"},{"x":7.84,"y":0.98,"g":"b"},{"x":7.6,"y":1.05,"g":"b"},{"x":8.07,"y":1.46,"g":"b"},{"x":7.9,"y":0.49,"g":"b"},
{"x":8.13,"y":1.55,"g":"r"},{"x":8.22,"y":2.01,"g":"r"},{"x":7.5,"y":1.34,"g":"r"},{"x":7.34,"y":1.2,"g":"r"},{"x":7.76,"y":1.2,"g":"r"},{"x":7.76,"y":1.16,"g":"r"}
]
},
"hconcat":[
{
"width":405,"height":403,
"layer":[
{"data":{"name":"aRed"},"mark":{"type":"point","shape":"square","filled":true,"size":6,"color":"#FF0000","opacity":1},
"encoding":{"x":{"field":"x","type":"quantitative","scale":{"domain":[-65000,1667000],"nice":false,"zero":false},"axis":{"values":[0,500000,1000000,1500000],"format":"d","title":null}},
"y":{"field":"y","type":"quantitative","scale":{"domain":[48,102],"nice":false,"zero":false},"axis":{"values":[50,60,70,80,90,100],"title":"Percent identity","labelAngle":-90,"labelAlign":"center","labelBaseline":"alphabetic","labelPadding":18}}}},
{"data":{"name":"aBlue"},"mark":{"type":"point","shape":"square","filled":true,"size":6,"color":"#0000FF","opacity":1},
"encoding":{"x":{"field":"x","type":"quantitative"},"y":{"field":"y","type":"quantitative"}}},
{"data":{"values":[{}]},"mark":{"type":"rule","color":"#6e6e6e","strokeDash":[8,5],"strokeWidth":1.3},"encoding":{"y":{"datum":88}}},
{"data":{"values":[{}]},"mark":{"type":"text","fontSize":32,"align":"left","baseline":"alphabetic","font":"Liberation Sans","color":"black"},"encoding":{"x":{"datum":-46000},"y":{"datum":98.29},"text":{"value":"A"}}},
{"data":{"values":[{}]},"mark":{"type":"text","fontSize":22,"align":"right","baseline":"alphabetic","font":"Liberation Sans","color":"black"},"encoding":{"x":{"datum":857000},"y":{"datum":34.85},"text":{"value":"Position of match in"}}},
{"data":{"values":[{}]},"mark":{"type":"text","fontSize":22,"align":"left","baseline":"alphabetic","font":"Liberation Sans","fontStyle":"italic","color":"black"},"encoding":{"x":{"datum":883000},"y":{"datum":34.85},"text":{"value":"R. grylli"}}},
{"data":{"values":[{}]},"mark":{"type":"text","fontSize":22,"align":"left","baseline":"alphabetic","font":"Liberation Sans","color":"black"},"encoding":{"x":{"datum":1234000},"y":{"datum":34.85},"text":{"value":"genome"}}}
]
},
{
"width":403,"height":403,
"layer":[
{"data":{"name":"b"},"mark":{"type":"circle","size":21,"opacity":1},
"encoding":{"x":{"field":"x","type":"quantitative","scale":{"domain":[-4.74,9.39],"nice":false,"zero":false},"axis":{"values":[-4,-2,0,2,4,6,8],"format":"d","title":"Log\u2212coverage in female sample"}},
"y":{"field":"y","type":"quantitative","scale":{"domain":[-1.46,5.37],"nice":false,"zero":false},"axis":{"values":[-1,0,1,2,3,4,5],"format":"d","title":"Log\u2212coverage in male sample","labelAngle":-90,"labelAlign":"center","labelBaseline":"alphabetic","labelPadding":18}},
"color":{"field":"g","type":"nominal","scale":{"domain":["r","b"],"range":["#FF0000","#0000FF"]},"legend":null}}},
{"data":{"values":[{}]},"mark":{"type":"text","fontSize":32,"align":"left","baseline":"alphabetic","font":"Liberation Sans","color":"black"},"encoding":{"x":{"datum":-4.62},"y":{"datum":4.9},"text":{"value":"B"}}}
]
}
]
}
